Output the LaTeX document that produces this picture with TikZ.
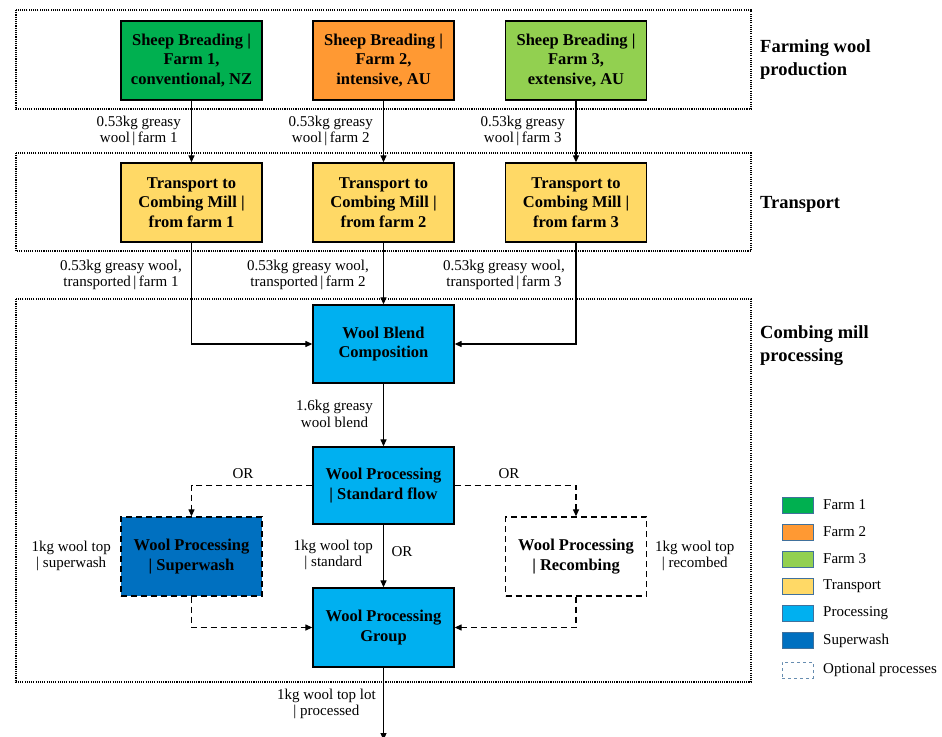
\documentclass[tikz,border=0pt]{standalone}
\usepackage{fontspec}
\setmainfont{Liberation Serif}
\usetikzlibrary{arrows.meta}
\definecolor{farmA}{HTML}{00B050}
\definecolor{farmB}{HTML}{FF9933}
\definecolor{farmC}{HTML}{92D050}
\definecolor{transp}{HTML}{FFD966}
\definecolor{proc}{HTML}{00B0F0}
\definecolor{swash}{HTML}{0070C0}
\definecolor{legbd}{HTML}{41719C}
\begin{document}
\begin{tikzpicture}[x=1pt,y=-1pt,
 box/.style={draw,line width=1.3pt,minimum width=141pt,minimum height=79pt,align=center,font=\bfseries\fontsize{16.5}{19.5}\selectfont,inner sep=2pt},
 optbox/.style={box,dashed,dash pattern=on 6pt off 4pt},
 frame/.style={line width=1.2pt,dash pattern=on 1.1pt off 1.1pt},
 lbl/.style={align=center,font=\fontsize{15}{16.5}\selectfont,inner sep=0pt},
 sect/.style={align=left,anchor=west,font=\bfseries\fontsize{18.5}{23}\selectfont,inner sep=0pt},
 arr/.style={line width=1.2pt,-{Triangle[length=7pt,width=6pt]}},
 darr/.style={arr,dash pattern=on 6pt off 4pt},
 legsq/.style={draw=legbd,line width=1pt,minimum width=31pt,minimum height=16pt,inner sep=0pt},
 legtx/.style={anchor=west,font=\fontsize{15}{16}\selectfont,inner sep=0pt}
]
\useasboundingbox (0,0) rectangle (942,736);

% frames
\draw[frame] (16,10) rectangle (751,109);
\draw[frame] (16,153) rectangle (751,251);
\draw[frame] (16,299) rectangle (751,682);

% section labels
\node[sect] (s1) at (760,60) {Farming wool\\production};
\node[sect] (s2) at (760,204) {Transport};
\node[sect] (s3) at (760,346) {Combing mill\\processing};

% boxes
\node[box,fill=farmA] (f1) at (191.5,60.5) {Sheep Breading |\\Farm 1,\\conventional, NZ};
\node[box,fill=farmB] (f2) at (383.5,60.5) {Sheep Breading |\\Farm 2,\\intensive, AU};
\node[box,fill=farmC] (f3) at (576,60.5) {Sheep Breading |\\Farm 3,\\extensive, AU};

\node[box,fill=transp] (t1) at (191.5,202.5) {Transport to\\Combing Mill |\\from farm 1};
\node[box,fill=transp] (t2) at (383.5,202.5) {Transport to\\Combing Mill |\\from farm 2};
\node[box,fill=transp] (t3) at (576,202.5) {Transport to\\Combing Mill |\\from farm 3};

\node[box,fill=proc,minimum height=78pt] (bl) at (383.5,344) {Wool Blend\\Composition};
\node[box,fill=proc,minimum height=77pt] (st) at (383.5,485.5) {Wool Processing\\| Standard flow};
\node[optbox,fill=swash] (sw) at (191.5,556.5) {Wool Processing\\| Superwash};
\node[optbox,fill=white] (rc) at (576,556.5) {Wool Processing\\| Recombing};
\node[box,fill=proc] (gr) at (383.5,627.5) {Wool Processing\\Group};
\coordinate (out) at (383.5,740);

% connectors
\draw[arr] (f1) -- (t1);
\draw[arr] (f2) -- (t2);
\draw[arr] (f3) -- (t3);
\draw[arr] (t1.south) |- (bl.west);
\draw[arr] (t2) -- (bl);
\draw[arr] (t3.south) |- (bl.east);
\draw[arr] (bl) -- (st);
\draw[darr] (st.west) -| (sw.north);
\draw[darr] (st.east) -| (rc.north);
\draw[arr] (st) -- (gr);
\draw[darr] (sw.south) |- (gr.west);
\draw[darr] (rc.south) |- (gr.east);
\draw[arr] (gr.south) -- (out);

% labels
\node[lbl,anchor=east] (l1) at (181,131) {0.53kg greasy\\wool{\,}|{\,}farm 1};
\node[lbl,anchor=east] (l2) at (373,131) {0.53kg greasy\\wool{\,}|{\,}farm 2};
\node[lbl,anchor=east] (l3) at (565,131) {0.53kg greasy\\wool{\,}|{\,}farm 3};
\node[lbl,anchor=east] (l4) at (182,275) {0.53kg greasy wool,\\transported{\,}|{\,}farm 1};
\node[lbl,anchor=east] (l5) at (369,275) {0.53kg greasy wool,\\transported{\,}|{\,}farm 2};
\node[lbl,anchor=east] (l6) at (565,275) {0.53kg greasy wool,\\transported{\,}|{\,}farm 3};
\node[lbl,anchor=east] (l7) at (373,414) {1.6kg greasy\\wool blend};
\node[lbl] (or1) at (243,474) {OR};
\node[lbl] (or2) at (509,474) {OR};
\node[lbl,anchor=east] (l8) at (111,556) {1kg wool top\\| superwash};
\node[lbl,anchor=east] (l9) at (373,555) {1kg wool top\\| standard};
\node[lbl] (or3) at (402,552) {OR};
\node[lbl,anchor=west] (l10) at (655,556) {1kg wool top\\| recombed};
\node[lbl,anchor=east] (l11) at (376,704) {1kg wool top lot\\| processed};

% legend
\node[legsq,fill=farmA] (g1) at (797.5,505) {};
\node[legsq,fill=farmB] (g2) at (797.5,532) {};
\node[legsq,fill=farmC] (g3) at (797.5,559) {};
\node[legsq,fill=transp] (g4) at (797.5,586.5) {};
\node[legsq,fill=proc] (g5) at (797.5,613.5) {};
\node[legsq,fill=swash] (g6) at (797.5,640.5) {};
\node[legsq,draw=legbd!80!white,dashed] (g7) at (797.5,670) {};
\node[legtx] at (823,505) {Farm 1};
\node[legtx] at (823,532) {Farm 2};
\node[legtx] at (823,559) {Farm 3};
\node[legtx] at (823,586.5) {Transport};
\node[legtx] at (823,613.5) {Processing};
\node[legtx] at (823,640.5) {Superwash};
\node[legtx] at (823,670) {Optional processes};
\end{tikzpicture}
\end{document}
